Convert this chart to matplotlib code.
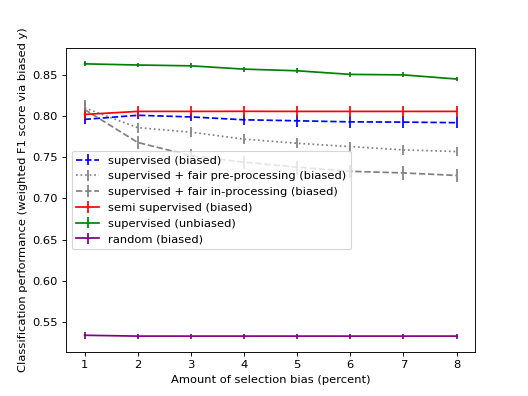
import matplotlib
matplotlib.use('Agg')
import matplotlib.pyplot as plt

# 数据
bias = [1, 2, 3, 4, 5, 6, 7, 8]

sup_biased = [0.796, 0.801, 0.799, 0.7955, 0.7943, 0.793, 0.7927, 0.792]
sup_biased_err = [0.006, 0.004, 0.005, 0.006, 0.007, 0.007, 0.007, 0.007]

fair_pre = [0.810, 0.786, 0.7805, 0.772, 0.767, 0.763, 0.759, 0.757]
fair_pre_err = [0.009, 0.006, 0.006, 0.006, 0.006, 0.006, 0.006, 0.006]

fair_in = [0.808, 0.768, 0.752, 0.744, 0.738, 0.733, 0.731, 0.728]
fair_in_err = [0.009, 0.008, 0.008, 0.008, 0.008, 0.008, 0.008, 0.008]

semi_sup = [0.802, 0.8057, 0.8057, 0.8058, 0.8057, 0.8057, 0.8057, 0.8057]
semi_sup_err = [0.007, 0.007, 0.007, 0.007, 0.007, 0.007, 0.007, 0.007]

sup_unbiased = [0.8634, 0.862, 0.861, 0.857, 0.855, 0.8506, 0.850, 0.845]
sup_unbiased_err = [0.003, 0.003, 0.003, 0.003, 0.003, 0.003, 0.003, 0.003]

random_biased = [0.534, 0.533, 0.533, 0.533, 0.533, 0.533, 0.533, 0.533]
random_biased_err = [0.004, 0.003, 0.003, 0.003, 0.003, 0.003, 0.003, 0.003]

fig = plt.figure(figsize=(6.4, 4.8), dpi=82.5)
ax = fig.add_subplot(111)

ax.errorbar(bias, sup_biased, yerr=sup_biased_err, color='blue', linestyle='--', label='supervised (biased)')
ax.errorbar(bias, fair_pre, yerr=fair_pre_err, color='gray', linestyle=':', label='supervised + fair pre-processing (biased)')
ax.errorbar(bias, fair_in, yerr=fair_in_err, color='gray', linestyle='--', label='supervised + fair in-processing (biased)')
ax.errorbar(bias, semi_sup, yerr=semi_sup_err, color='red', linestyle='-', label='semi supervised (biased)')
ax.errorbar(bias, sup_unbiased, yerr=sup_unbiased_err, color='green', linestyle='-', label='supervised (unbiased)')
ax.errorbar(bias, random_biased, yerr=random_biased_err, color='purple', linestyle='-', label='random (biased)')

ax.set_xlabel('Amount of selection bias (percent)')
ax.set_ylabel('Classification performance (weighted F1 score via biased y)')
ax.legend(loc='center left')

fig.savefig('out.png', dpi=82.5)
